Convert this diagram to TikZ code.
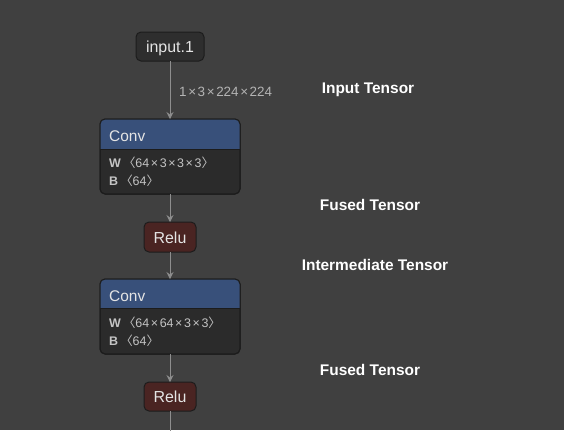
\documentclass[tikz,border=0pt]{standalone}
\usepackage{fontspec}
\setmainfont{Liberation Sans}
\newfontfamily\cjk{Noto Sans CJK SC}
\usetikzlibrary{calc}
\usetikzlibrary{arrows.meta}

\definecolor{bgGray}{HTML}{404040}
\definecolor{nodeLine}{HTML}{1C1C1C}
\definecolor{inputFill}{HTML}{2E2E2E}
\definecolor{bodyFill}{HTML}{2B2B2B}
\definecolor{convBlue}{HTML}{38507A}
\definecolor{reluFill}{HTML}{4A2422}
\definecolor{nodeText}{HTML}{E4E4E4}
\definecolor{paramText}{HTML}{C4C4C4}
\definecolor{edgeGray}{HTML}{8E8E8E}
\definecolor{dimText}{HTML}{B4B4B4}

\newcommand{\tms}{\hspace{1.6bp}×\hspace{1.6bp}}
\newcommand{\lab}{{\cjk 〈}}
\newcommand{\rab}{{\cjk 〉}}

\tikzset{
    op/.style={draw=nodeLine, line width=1bp, rounded corners=5bp, inner sep=0pt, outer sep=0pt,
        text=nodeText, font=\fontsize{16}{19}\selectfont, text height=12.5bp, text depth=0pt},
    headtext/.style={anchor=base west, inner sep=0pt, text=nodeText, font=\fontsize{15.5}{18}\selectfont},
    paramtext/.style={anchor=base west, inner sep=0pt, text=paramText, font=\fontsize{12.5}{15}\selectfont},
    dimtext/.style={anchor=base west, inner sep=0pt, text=dimText, font=\fontsize{13.5}{16}\selectfont},
    tensorlabel/.style={anchor=base, inner sep=0pt, text=white, font=\bfseries\fontsize{15.5}{18}\selectfont},
    edge/.style={draw=edgeGray, line width=1bp, -{Stealth[length=7bp,width=7bp,inset=2.5bp]}},
    edgeline/.style={draw=edgeGray, line width=1bp}
}

\begin{document}
\begin{tikzpicture}[x=1bp,y=-1bp]
    \fill[bgGray] (0,0) rectangle (564,430);
    \useasboundingbox (0,0) rectangle (564,430);

    % input
    \node[op, fill=inputFill, minimum width=68bp, minimum height=29bp] (input) at (170,46.5) {input.1};

    % first conv
    \node[op, fill=bodyFill, minimum width=140bp, minimum height=75bp] (conv1) at (170,156.5) {};
    \begin{scope}
        \clip[rounded corners=5bp] (conv1.north west) rectangle (conv1.south east);
        \fill[convBlue] (conv1.north west) rectangle ($(conv1.north east)+(0,30)$);
        \draw[nodeLine, line width=1bp] ($(conv1.north west)+(0,30)$) -- ($(conv1.north east)+(0,30)$);
    \end{scope}
    \draw[nodeLine, line width=1bp, rounded corners=5bp] (conv1.north west) rectangle (conv1.south east);
    \node[headtext] (conv1name) at ($(conv1.north west)+(9,22)$) {Conv};
    \node[paramtext] (conv1w) at ($(conv1.north west)+(9,48.5)$) {\textbf{W}\,\lab64\tms3\tms3\tms3\rab};
    \node[paramtext] (conv1b) at ($(conv1.north west)+(9,66.5)$) {\textbf{B}\,\lab64\rab};

    % first relu
    \node[op, fill=reluFill, minimum width=52bp, minimum height=30bp] (relu1) at (170,237) {Relu};

    % second conv
    \node[op, fill=bodyFill, minimum width=140bp, minimum height=75bp] (conv2) at (170,316.5) {};
    \begin{scope}
        \clip[rounded corners=5bp] (conv2.north west) rectangle (conv2.south east);
        \fill[convBlue] (conv2.north west) rectangle ($(conv2.north east)+(0,29)$);
        \draw[nodeLine, line width=1bp] ($(conv2.north west)+(0,29)$) -- ($(conv2.north east)+(0,29)$);
    \end{scope}
    \draw[nodeLine, line width=1bp, rounded corners=5bp] (conv2.north west) rectangle (conv2.south east);
    \node[headtext] (conv2name) at ($(conv2.north west)+(9,22)$) {Conv};
    \node[paramtext] (conv2w) at ($(conv2.north west)+(9,48.3)$) {\textbf{W}\,\lab64\tms64\tms3\tms3\rab};
    \node[paramtext] (conv2b) at ($(conv2.north west)+(9,66)$) {\textbf{B}\,\lab64\rab};

    % second relu
    \node[op, fill=reluFill, minimum width=52bp, minimum height=29bp] (relu2) at (170,396.5) {Relu};
    \coordinate (tail) at (170,431);

    % edges
    \draw[edge] (input) -- (conv1);
    \draw[edge] (conv1) -- (relu1);
    \draw[edge] (relu1) -- (conv2);
    \draw[edge] (conv2) -- (relu2);
    \draw[edgeline] (relu2) -- (tail);
    \node[dimtext] (dims) at (179,96) {1\tms3\tms224\tms224};

    % tensor labels
    \node[tensorlabel] (inTensor) at (368,93.3) {Input Tensor};
    \node[tensorlabel] (fused1) at (370,210) {Fused Tensor};
    \node[tensorlabel] (midTensor) at (375,270) {Intermediate Tensor};
    \node[tensorlabel] (fused2) at (370,375) {Fused Tensor};
\end{tikzpicture}
\end{document}
